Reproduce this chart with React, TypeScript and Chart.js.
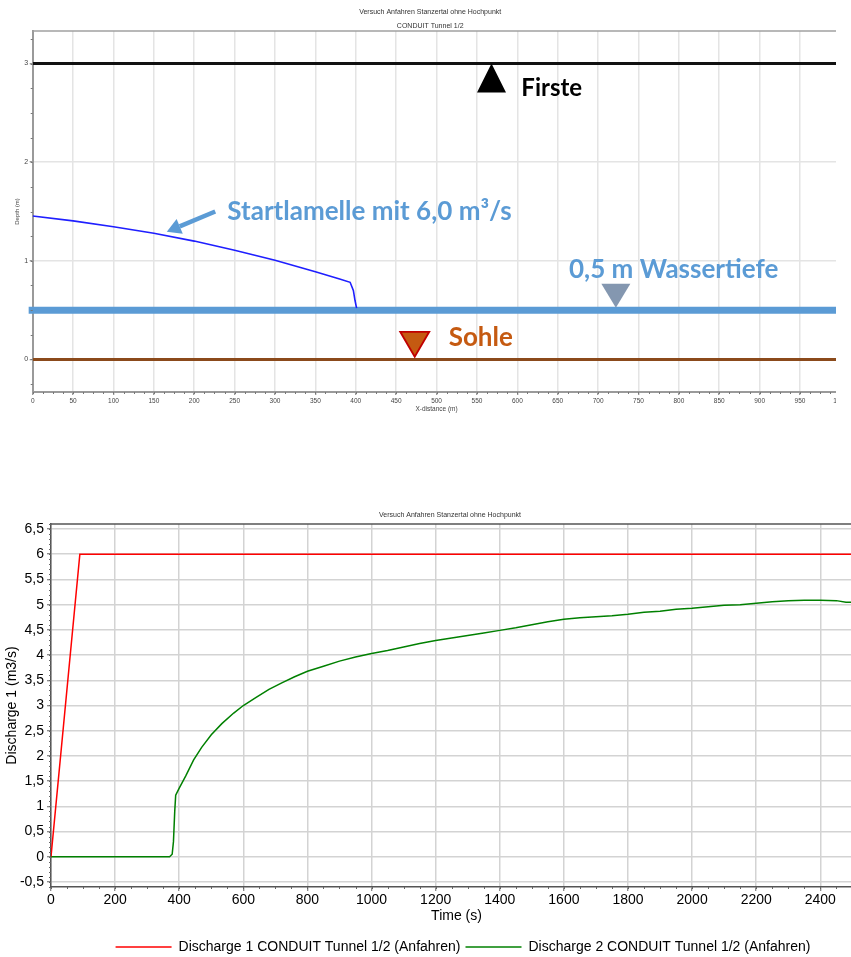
import React, { useEffect, useRef } from 'react';
import { Chart, registerables } from 'chart.js';

Chart.register(...registerables);

const NARROW = "'Liberation Sans Narrow', 'Arial Narrow', 'Liberation Sans', Arial, sans-serif";
const SANS = "'Liberation Sans', Arial, sans-serif";
const CALLOUT_FONT = "Lato, 'Open Sans', 'Noto Sans', sans-serif";

// ---------------- Top chart: longitudinal profile ----------------
const PROFILE_TITLE = 'Versuch Anfahren Stanzertal ohne Hochpunkt';
const PROFILE_SUBTITLE = 'CONDUIT Tunnel 1/2';
const PROFILE_X_TITLE = 'X-distance (m)';
const PROFILE_Y_TITLE = 'Depth (m)';
const PROFILE_X_MIN = 0;
const PROFILE_X_MAX = 1000;
const PROFILE_X_STEP = 50;
const PROFILE_Y_MIN = -0.33;
const PROFILE_Y_MAX = 3.33;
const PROFILE_Y_STEP = 1;

// Water surface of the start lamella (Startlamelle)
const LAMELLE_X = [0, 50, 100, 150, 200, 250, 300, 350, 380, 393, 397, 399, 401];
const LAMELLE_Y = [1.455, 1.405, 1.345, 1.28, 1.2, 1.108, 1.005, 0.89, 0.815, 0.782, 0.7, 0.6, 0.52];
// Crown (Firste)
const FIRSTE_X = [0, 1000];
const FIRSTE_Y = [3, 3];
// 0,5 m water depth
const WASSER_X = [-5, 1000];
const WASSER_Y = [0.5, 0.5];
// Invert (Sohle)
const SOHLE_X = [0, 1000];
const SOHLE_Y = [0, 0];

// Callout texts
const CALLOUT_TEXTS = ['Firste', 'Startlamelle mit 6,0 m³/s', '0,5 m Wassertiefe', 'Sohle'];

// annotation placement (data coordinates of anchors)
const CALLOUTS = [
  { text: CALLOUT_TEXTS[0], x: 605, y: 2.75, color: '#000000', size: 24 },
  { text: CALLOUT_TEXTS[1], x: 241, y: 1.5, color: '#5B9BD5', size: 26 },
  { text: CALLOUT_TEXTS[2], x: 664, y: 0.914, color: '#5B9BD5', size: 26 },
  { text: CALLOUT_TEXTS[3], x: 515, y: 0.224, color: '#C55A11', size: 26 },
];
const MARKERS = [
  { x: 568, y: 3.0, dir: 'up', w: 29, h: 29, fill: '#000000', stroke: '' },
  { x: 722, y: 0.524, dir: 'down', w: 29, h: 24, fill: '#8497B0', stroke: '' },
  { x: 473, y: 0.027, dir: 'down', w: 29, h: 25, fill: '#C55A11', stroke: '#C00000' },
];
const ARROW = { x1: 226, y1: 1.5, x2: 166, y2: 1.295, color: '#5B9BD5' };

// ---------------- Bottom chart: discharge hydrograph ----------------
const DISCHARGE_TITLE = 'Versuch Anfahren Stanzertal ohne Hochpunkt';
const TIME_TITLE = 'Time (s)';
const DISCHARGE_Y_TITLE = 'Discharge 1 (m3/s)';
const SERIES1_NAME = 'Discharge 1 CONDUIT Tunnel 1/2 (Anfahren)';
const SERIES2_NAME = 'Discharge 2 CONDUIT Tunnel 1/2 (Anfahren)';
const TIME_MIN = 0;
const TIME_MAX = 2530;
const TIME_STEP = 200;
const Q_MIN = -0.6;
const Q_MAX = 6.6;
const Q_STEP = 0.5;

const Q1_T = [0, 90, 2530];
const Q1 = [0, 6, 6];

const Q2_T = [0, 370, 378, 382, 386, 389, 400, 420, 445, 470, 500, 533, 570, 600, 640, 680, 720, 760, 800, 850,
  900, 950, 1000, 1050, 1100, 1150, 1200, 1250, 1300, 1350, 1400, 1450, 1500, 1550, 1600, 1650, 1700, 1750, 1800,
  1850, 1900, 1950, 2000, 2050, 2100, 2150, 2200, 2250, 2300, 2350, 2400, 2450, 2480, 2530];
const Q2 = [0, 0, 0.05, 0.3, 0.9, 1.22, 1.36, 1.6, 1.92, 2.17, 2.42, 2.64, 2.85, 3.0, 3.16, 3.32, 3.45, 3.57, 3.68, 3.78,
  3.88, 3.96, 4.03, 4.09, 4.16, 4.23, 4.29, 4.34, 4.39, 4.44, 4.49, 4.54, 4.6, 4.66, 4.71, 4.74, 4.76, 4.78, 4.81,
  4.85, 4.87, 4.91, 4.93, 4.96, 4.99, 5.0, 5.03, 5.06, 5.08, 5.09, 5.09, 5.08, 5.05, 5.05];

const pts = (xs: number[], ys: number[]) => xs.map((x, i) => ({ x, y: ys[i] }));

// ---------------- plugins ----------------
const axisExtras = {
  id: 'axisExtras',
  afterDraw(chart: any, _args: any, opts: any) {
    const { ctx, chartArea } = chart;
    ctx.save();
    if (opts.frameTop) {
      ctx.strokeStyle = opts.frameTop.color;
      ctx.lineWidth = opts.frameTop.width;
      ctx.beginPath();
      ctx.moveTo(chartArea.left, chartArea.top);
      ctx.lineTo(chartArea.right, chartArea.top);
      ctx.stroke();
    }
    for (const m of opts.minor || []) {
      const s = chart.scales[m.axis];
      ctx.strokeStyle = m.color;
      ctx.lineWidth = 1;
      ctx.beginPath();
      const start = Math.ceil(s.min / m.step - 1e-9) * m.step;
      for (let i = 0; i < 1000; i++) {
        const v = start + i * m.step;
        if (v > s.max + 1e-9) break;
        const p = Math.round(s.getPixelForValue(v)) + 0.5;
        if (s.isHorizontal()) {
          ctx.moveTo(p, s.top);
          ctx.lineTo(p, s.top + m.len);
        } else {
          ctx.moveTo(s.right - m.len, p);
          ctx.lineTo(s.right, p);
        }
      }
      ctx.stroke();
    }
    ctx.restore();
  },
};

const profileCallouts = {
  id: 'profileCallouts',
  afterDatasetsDraw(chart: any) {
    const { ctx } = chart;
    const xs = chart.scales.x;
    const ys = chart.scales.y;
    ctx.save();
    // arrow
    const ax1 = xs.getPixelForValue(ARROW.x1), ay1 = ys.getPixelForValue(ARROW.y1);
    const ax2 = xs.getPixelForValue(ARROW.x2), ay2 = ys.getPixelForValue(ARROW.y2);
    const dx = ax2 - ax1, dy = ay2 - ay1;
    const len = Math.hypot(dx, dy);
    const ux = dx / len, uy = dy / len;
    const headLen = 14, headHalf = 8;
    ctx.strokeStyle = ARROW.color;
    ctx.fillStyle = ARROW.color;
    ctx.lineWidth = 4.5;
    ctx.beginPath();
    ctx.moveTo(ax1, ay1);
    ctx.lineTo(ax2 - ux * headLen, ay2 - uy * headLen);
    ctx.stroke();
    ctx.beginPath();
    ctx.moveTo(ax2, ay2);
    ctx.lineTo(ax2 - ux * headLen - uy * headHalf, ay2 - uy * headLen + ux * headHalf);
    ctx.lineTo(ax2 - ux * headLen + uy * headHalf, ay2 - uy * headLen - ux * headHalf);
    ctx.closePath();
    ctx.fill();
    // triangles
    for (const m of MARKERS) {
      const px = xs.getPixelForValue(m.x);
      const py = ys.getPixelForValue(m.y);
      const by = m.dir === 'up' ? py + m.h : py - m.h;
      ctx.beginPath();
      ctx.moveTo(px, py);
      ctx.lineTo(px - m.w / 2, by);
      ctx.lineTo(px + m.w / 2, by);
      ctx.closePath();
      ctx.fillStyle = m.fill;
      ctx.fill();
      if (m.stroke) {
        ctx.strokeStyle = m.stroke;
        ctx.lineWidth = 1.8;
        ctx.lineJoin = 'miter';
        ctx.stroke();
      }
    }
    // texts
    ctx.textAlign = 'left';
    ctx.textBaseline = 'middle';
    for (const c of CALLOUTS) {
      ctx.font = `bold ${c.size}px ${CALLOUT_FONT}`;
      ctx.fillStyle = c.color;
      ctx.fillText(c.text, xs.getPixelForValue(c.x), ys.getPixelForValue(c.y));
    }
    ctx.restore();
  },
};

// Shift title / legend blocks horizontally (non-axis layout boxes)
const boxShift = {
  id: 'boxShift',
  afterLayout(chart: any, _a: any, opts: any) {
    for (const b of chart.boxes) {
      if (b.axis) continue;
      const dx = b.position === 'top' ? opts.top || 0 : b.position === 'bottom' ? opts.bottom || 0 : 0;
      if (dx) {
        b.left += dx;
        b.right += dx;
      }
    }
  },
};

const plainFmt = (v: any) => String(Math.round(Number(v) * 100) / 100);
const commaFmt = (v: any) => plainFmt(v).replace('.', ',');

function makeProfileConfig(): any {
  return {
    type: 'line',
    data: {
      datasets: [
        { label: 'Startlamelle', data: pts(LAMELLE_X, LAMELLE_Y), borderColor: '#1F1FFF', borderWidth: 1.6, pointRadius: 0, tension: 0 },
        { label: 'Firste', data: pts(FIRSTE_X, FIRSTE_Y), borderColor: '#111111', borderWidth: 3, pointRadius: 0 },
        { label: 'Wassertiefe', data: pts(WASSER_X, WASSER_Y), borderColor: '#5B9BD5', borderWidth: 7, pointRadius: 0, clip: false },
        { label: 'Sohle', data: pts(SOHLE_X, SOHLE_Y), borderColor: '#8B4A1B', borderWidth: 3, pointRadius: 0 },
      ],
    },
    options: {
      animation: false,
      responsive: false,
      events: [],
      layout: { padding: { left: 0, right: 19.6, top: 0, bottom: 0 } },
      plugins: {
        legend: { display: false },
        tooltip: { enabled: false },
        title: {
          display: true, text: PROFILE_TITLE, color: '#333', font: { family: NARROW, size: 7, weight: 'normal' },
          padding: { top: 8, bottom: 2 },
        },
        subtitle: {
          display: true, text: PROFILE_SUBTITLE, color: '#333', font: { family: NARROW, size: 7, weight: 'normal' },
          padding: { top: 3, bottom: 1.2 },
        },
        boxShift: { top: 10 },
        axisExtras: {
          frameTop: { color: '#a0a0a0', width: 1.5 },
          minor: [
            { axis: 'x', step: 12.5, len: 2, color: '#777' },
            { axis: 'y', step: 0.25, len: 2, color: '#777' },
          ],
        },
      },
      scales: {
        x: {
          type: 'linear', min: PROFILE_X_MIN, max: PROFILE_X_MAX,
          ticks: { stepSize: PROFILE_X_STEP, autoSkip: false, maxRotation: 0, color: '#444', padding: 2, font: { family: NARROW, size: 6.5 }, callback: plainFmt },
          grid: { color: '#e4e4e4', lineWidth: 1.5, tickLength: 3, tickColor: '#777', tickWidth: 1 },
          border: { color: '#9a9a9a', width: 2 },
          title: { display: true, text: PROFILE_X_TITLE, color: '#444', font: { family: NARROW, size: 6.5 }, padding: { top: 0, bottom: 6.4 } },
          afterFit: (s: any) => { s.height = 28; },
        },
        y: {
          type: 'linear', min: PROFILE_Y_MIN, max: PROFILE_Y_MAX,
          ticks: { stepSize: PROFILE_Y_STEP, includeBounds: false, color: '#444', padding: 1.5, font: { family: NARROW, size: 7 }, callback: plainFmt },
          grid: { color: '#e4e4e4', lineWidth: 1.5, tickLength: 3, tickColor: '#777', tickWidth: 1 },
          border: { color: '#9a9a9a', width: 2 },
          title: { display: true, text: PROFILE_Y_TITLE, color: '#444', font: { family: NARROW, size: 6 }, padding: { top: 13.4, bottom: 0 } },
          afterFit: (s: any) => { s.width = 32.7; },
        },
      },
    },
    plugins: [axisExtras, profileCallouts, boxShift],
  };
}

function makeDischargeConfig(): any {
  return {
    type: 'line',
    data: {
      datasets: [
        { label: SERIES1_NAME, data: pts(Q1_T, Q1), borderColor: '#FF0000', backgroundColor: '#FF0000', borderWidth: 1.5, pointRadius: 0, tension: 0 },
        { label: SERIES2_NAME, data: pts(Q2_T, Q2), borderColor: '#008000', backgroundColor: '#008000', borderWidth: 1.5, pointRadius: 0, tension: 0 },
      ],
    },
    options: {
      animation: false,
      responsive: false,
      events: [],
      layout: { padding: { left: 0, right: 50, top: 0, bottom: 0 } },
      plugins: {
        tooltip: { enabled: false },
        title: {
          display: true, text: DISCHARGE_TITLE, color: '#333', font: { family: NARROW, size: 7, weight: 'normal' },
          padding: { top: 11, bottom: 4.6 },
        },
        legend: {
          position: 'bottom',
          labels: {
            usePointStyle: true, pointStyle: 'line', pointStyleWidth: 56, padding: 5,
            color: '#000', font: { family: SANS, size: 14 },
          },
        },
        boxShift: { top: 19, bottom: 32 },
        axisExtras: {
          frameTop: { color: '#555', width: 1.5 },
          minor: [
            { axis: 'x', step: 50, len: 2, color: '#666' },
            { axis: 'y', step: 0.1, len: 2, color: '#666' },
          ],
        },
      },
      scales: {
        x: {
          type: 'linear', min: TIME_MIN, max: TIME_MAX,
          ticks: { stepSize: TIME_STEP, includeBounds: false, autoSkip: false, maxRotation: 0, color: '#000', padding: 1, font: { family: SANS, size: 14 }, callback: plainFmt },
          grid: { color: '#d3d3d3', lineWidth: 1.5, tickLength: 4, tickColor: '#666', tickWidth: 1 },
          border: { color: '#555', width: 1.5 },
          title: { display: true, text: TIME_TITLE, color: '#000', font: { family: SANS, size: 14 }, padding: { top: 0, bottom: 10.6 } },
          afterFit: (s: any) => { s.height = 48; },
        },
        y: {
          type: 'linear', min: Q_MIN, max: Q_MAX,
          ticks: { stepSize: Q_STEP, includeBounds: false, color: '#000', padding: 3, font: { family: SANS, size: 14 }, callback: commaFmt },
          grid: { color: '#d3d3d3', lineWidth: 1.5, tickLength: 4, tickColor: '#666', tickWidth: 1 },
          border: { color: '#555', width: 1.5 },
          title: { display: true, text: DISCHARGE_Y_TITLE, color: '#000', font: { family: SANS, size: 14 }, padding: { top: 3.6, bottom: 0 } },
          afterFit: (s: any) => { s.width = 51; },
        },
      },
    },
    plugins: [axisExtras, boxShift],
  };
}

function ChartCanvas({ makeConfig, width, height }: { makeConfig: () => any; width: number; height: number }) {
  const ref = useRef<HTMLCanvasElement>(null);
  useEffect(() => {
    const chart = new Chart(ref.current as HTMLCanvasElement, makeConfig());
    return () => chart.destroy();
  }, [makeConfig]);
  return <canvas ref={ref} width={width} height={height} style={{ width, height, display: 'block' }} />;
}

export default function App() {
  return (
    <>
      <div style={{ position: 'absolute', left: 0, top: 0, width: 836, height: 420, overflow: 'hidden', background: '#fff' }}>
        <ChartCanvas makeConfig={makeProfileConfig} width={860} height={420} />
      </div>
      <div style={{ position: 'absolute', left: 0, top: 500, width: 851, height: 457, overflow: 'hidden', background: '#fff' }}>
        <ChartCanvas makeConfig={makeDischargeConfig} width={912} height={464} />
      </div>
    </>
  );
}
